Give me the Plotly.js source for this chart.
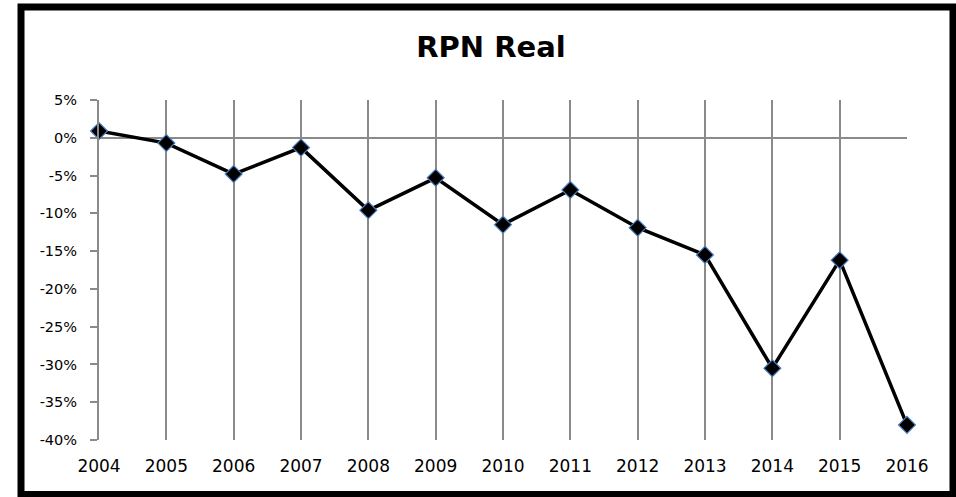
<!DOCTYPE html>
<html>
<head>
<meta charset="utf-8">
<script src="https://cdn.plot.ly/plotly-3.0.1.min.js"></script>
<style>
  html, body { margin: 0; padding: 0; background: #ffffff; }
  #chart { width: 956px; height: 497px; }
</style>
</head>
<body>
<div id="chart"></div>
<script>
// Data
const years = [2004, 2005, 2006, 2007, 2008, 2009, 2010, 2011, 2012, 2013, 2014, 2015, 2016];
const rpnReal = [0.009, -0.007, -0.048, -0.013, -0.096, -0.053, -0.115, -0.069, -0.119, -0.155, -0.305, -0.162, -0.380];
const yTickVals = [0.05, 0, -0.05, -0.10, -0.15, -0.20, -0.25, -0.30, -0.35, -0.40];
const yTickText = ["5%", "0%", "-5%", "-10%", "-15%", "-20%", "-25%", "-30%", "-35%", "-40%"];
const xTickText = years.map(String);
const chartTitle = "RPN Real";

const W = 956, H = 497;
const M = { l: 99, r: 49, t: 100, b: 57 };
const pw = W - M.l - M.r, ph = H - M.t - M.b;
const px = v => (v - M.l) / pw;
const py = v => (H - M.b - v) / ph;

const font = "'DejaVu Sans', 'Open Sans', sans-serif";
const gridCol = "#8a8a8a";

const trace = {
  x: years,
  y: rpnReal,
  type: "scatter",
  mode: "lines+markers",
  cliponaxis: false,
  line: { color: "#000000", width: 3.5 },
  marker: { symbol: "diamond", size: 13, color: "#000000", line: { color: "#4a7ebb", width: 1.2 } },
  hoverinfo: "x+y",
  showlegend: false
};

const layout = {
  width: W,
  height: H,
  margin: M,
  paper_bgcolor: "#ffffff",
  plot_bgcolor: "#ffffff",
  title: {
    text: "<b>" + chartTitle + "</b>",
    font: { family: font, size: 29, color: "#000000" },
    x: 491 / W,
    xanchor: "center",
    xref: "container",
    y: 1 - 47 / H,
    yanchor: "middle",
    yref: "container"
  },
  xaxis: {
    range: [2004, 2016],
    tickvals: years,
    ticktext: xTickText,
    showgrid: true,
    gridcolor: gridCol,
    gridwidth: 2,
    zeroline: false,
    showline: false,
    ticks: "",
    ticklabelstandoff: 14,
    tickfont: { family: font, size: 17, color: "#000000" },
    fixedrange: true
  },
  yaxis: {
    range: [-0.40, 0.05],
    tickvals: yTickVals,
    ticktext: yTickText,
    showgrid: false,
    zeroline: true,
    zerolinecolor: gridCol,
    zerolinewidth: 2,
    showline: true,
    linecolor: gridCol,
    linewidth: 2,
    ticks: "outside",
    ticklen: 7,
    tickwidth: 2,
    tickcolor: gridCol,
    ticklabelstandoff: 10,
    tickfont: { family: font, size: 14.5, color: "#000000" },
    fixedrange: true
  },
  shapes: [
    {
      type: "rect",
      xref: "paper", yref: "paper",
      x0: px(21), x1: px(953),
      y0: py(494.5), y1: py(7),
      line: { color: "#000000", width: 7 },
      fillcolor: "rgba(0,0,0,0)",
      layer: "above"
    }
  ]
};

Plotly.newPlot("chart", [trace], layout, { displayModeBar: false, staticPlot: true });
</script>
</body>
</html>
